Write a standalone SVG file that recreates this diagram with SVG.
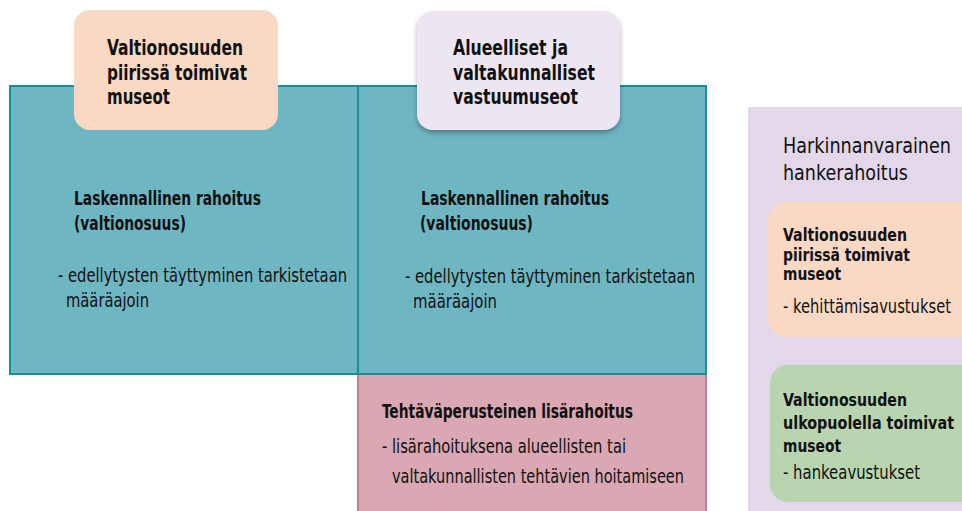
<svg xmlns="http://www.w3.org/2000/svg" width="962" height="511" viewBox="0 0 962 511">
<defs>
<style>
text{font-family:"Liberation Sans Narrow","DejaVu Sans Condensed","Liberation Sans",sans-serif;fill:#111;}
.b{font-weight:bold;}
.h{font-size:21px;}
.m{font-size:19px;}
.s{font-size:17px;}
.teal{fill:#6fb6c3;stroke:#168e9b;stroke-width:2;}
.pink{fill:#d9a8b2;stroke:#c77c8f;stroke-width:2;}
</style>
<filter id="sh" x="-10%" y="-10%" width="120%" height="130%">
<feDropShadow dx="0" dy="3" stdDeviation="2.5" flood-color="#000" flood-opacity="0.3"/>
</filter>
</defs>
<rect width="962" height="511" fill="#fff"/>

<g id="pink-lisarahoitus">
<rect class="pink" x="358" y="374" width="348" height="145"/>
<text class="m b" x="382" y="418" textLength="251" lengthAdjust="spacingAndGlyphs">Tehtäväperusteinen lisärahoitus</text>
<text class="m" x="382" y="453" textLength="244" lengthAdjust="spacingAndGlyphs">- lisärahoituksena alueellisten tai</text>
<text class="m" x="392" y="483" textLength="292" lengthAdjust="spacingAndGlyphs">valtakunnallisten tehtävien hoitamiseen</text>
</g>

<g id="teal-left">
<rect class="teal" x="10" y="86" width="348" height="288"/>
<text class="m b" x="74" y="205" textLength="187" lengthAdjust="spacingAndGlyphs">Laskennallinen rahoitus</text>
<text class="m b" x="74" y="230" textLength="112" lengthAdjust="spacingAndGlyphs">(valtionosuus)</text>
<text class="m" x="58" y="282" textLength="289" lengthAdjust="spacingAndGlyphs">-  edellytysten täyttyminen tarkistetaan</text>
<text class="m" x="66" y="307" textLength="83" lengthAdjust="spacingAndGlyphs">määräajoin</text>
</g>

<g id="teal-middle">
<rect class="teal" x="358" y="86" width="348" height="288"/>
<text class="m b" x="421" y="205" textLength="188" lengthAdjust="spacingAndGlyphs">Laskennallinen rahoitus</text>
<text class="m b" x="420" y="230" textLength="113" lengthAdjust="spacingAndGlyphs">(valtionosuus)</text>
<text class="m" x="405" y="283" textLength="290" lengthAdjust="spacingAndGlyphs">- edellytysten täyttyminen tarkistetaan</text>
<text class="m" x="413" y="308" textLength="84" lengthAdjust="spacingAndGlyphs">määräajoin</text>
</g>

<g id="peach-top">
<rect x="74" y="10" width="204" height="120" rx="16" fill="#fad9c4"/>
<text class="h b" x="107" y="55" textLength="136" lengthAdjust="spacingAndGlyphs">Valtionosuuden</text>
<text class="h b" x="107" y="80" textLength="140" lengthAdjust="spacingAndGlyphs">piirissä toimivat</text>
<text class="h b" x="107" y="104" textLength="63" lengthAdjust="spacingAndGlyphs">museot</text>
</g>

<g id="lavender-top">
<rect x="417" y="11" width="203" height="119" rx="16" fill="#ede6f2" filter="url(#sh)"/>
<text class="h b" x="453" y="55" textLength="115" lengthAdjust="spacingAndGlyphs">Alueelliset ja</text>
<text class="h b" x="453" y="80" textLength="142" lengthAdjust="spacingAndGlyphs">valtakunnalliset</text>
<text class="h b" x="453" y="104" textLength="125" lengthAdjust="spacingAndGlyphs">vastuumuseot</text>
</g>

<g id="harkinnanvarainen">
<rect x="748" y="107" width="214" height="404" fill="#e3d8ea"/>
<text class="h" x="783" y="153" textLength="168" lengthAdjust="spacingAndGlyphs">Harkinnanvarainen</text>
<text class="h" x="783" y="180" textLength="125" lengthAdjust="spacingAndGlyphs">hankerahoitus</text>
</g>

<g id="peach-right">
<path d="M786 202 H962 V337 H786 A18 18 0 0 1 768 319 V220 A18 18 0 0 1 786 202 Z" fill="#fad9c4"/>
<text class="s b" x="783" y="241" textLength="124" lengthAdjust="spacingAndGlyphs">Valtionosuuden</text>
<text class="s b" x="783" y="261" textLength="127" lengthAdjust="spacingAndGlyphs">piirissä toimivat</text>
<text class="s b" x="783" y="280" textLength="58" lengthAdjust="spacingAndGlyphs">museot</text>
<text class="m" x="783" y="313" textLength="168" lengthAdjust="spacingAndGlyphs">- kehittämisavustukset</text>
</g>

<g id="green-right">
<path d="M788 365 H962 V502 H788 A18 18 0 0 1 770 484 V383 A18 18 0 0 1 788 365 Z" fill="#b9d5b0"/>
<text class="s b" x="783" y="406" textLength="124" lengthAdjust="spacingAndGlyphs">Valtionosuuden</text>
<text class="s b" x="783" y="429" textLength="171" lengthAdjust="spacingAndGlyphs">ulkopuolella toimivat</text>
<text class="s b" x="783" y="452" textLength="58" lengthAdjust="spacingAndGlyphs">museot</text>
<text class="m" x="783" y="479" textLength="137" lengthAdjust="spacingAndGlyphs">- hankeavustukset</text>
</g>

<g id="connectors"/>
</svg>
